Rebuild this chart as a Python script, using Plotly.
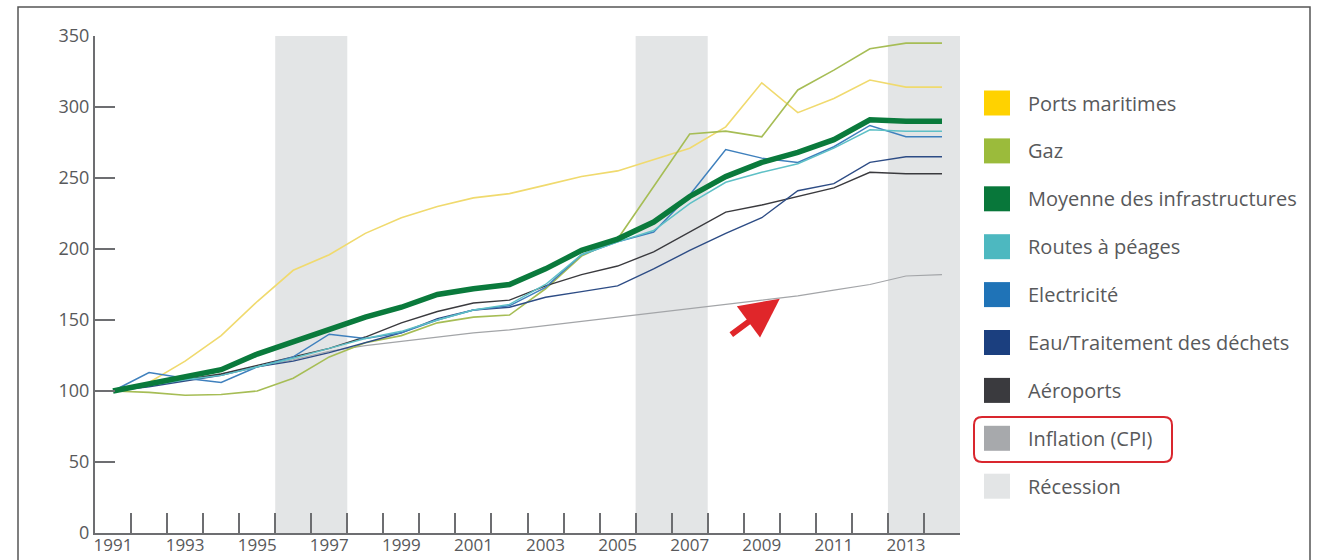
import plotly.graph_objects as go

# ---------------- data ----------------
years = list(range(1991, 2015))

ports_maritimes = [100, 106, 121, 139, 163, 185, 196, 211, 222, 230, 236, 239,
                   245, 251, 255, 263, 271, 286, 317, 296, 306, 319, 314, 314]
gaz = [100, 99, 97, 97.5, 100, 109, 124, 134, 139, 148, 152, 153.5,
       172, 195, 207, 244, 281, 283, 279, 312, 326, 341, 345, 345]
moyenne = [100, 105, 110, 115, 126, 135, 143, 152, 159, 168, 172, 175,
           186, 199, 207, 219, 237, 251, 261, 268, 277, 291, 290, 290]
routes_peages = [100, 104, 108, 111, 117, 123, 130, 137, 142, 150, 157, 161,
                 175, 196, 205, 213, 232, 247, 254, 260, 271, 284, 283, 283]
electricite = [100, 113, 109, 106, 117, 124, 140, 137, 141, 150, 157, 160,
               173, 196, 205, 212, 238, 270, 264, 261, 272, 287, 279, 279]
eau_dechets = [100, 103, 107, 111, 117, 121, 127, 134, 141, 151, 157, 159,
               166, 170, 174, 186, 199, 211, 222, 241, 246, 261, 265, 265]
aeroports = [100, 104, 108, 112, 118, 124, 130, 138, 148, 156, 162, 164,
             174, 182, 188, 198, 212, 226, 231, 237, 243, 254, 253, 253]
inflation = [100, 104, 108, 112, 117, 122, 128, 132, 135, 138, 141, 143,
             146, 149, 152, 155, 158, 161, 164, 167, 171, 175, 181, 182]

recessions = [(1995.5, 1997.5), (2005.5, 2007.5), (2012.5, 2014.5)]

x_label_years = [1991, 1993, 1995, 1997, 1999, 2001, 2003, 2005, 2007, 2009, 2011, 2013]
x_tick_bounds = [y + 0.5 for y in range(1991, 2015)]
y_ticks = [0, 50, 100, 150, 200, 250, 300, 350]

legend_names = ["Ports maritimes", "Gaz", "Moyenne des infrastructures", "Routes à péages",
                "Electricité", "Eau/Traitement des déchets", "Aéroports", "Inflation (CPI)",
                "Récession"]
legend_colors = ["#FFD200", "#9BBB3B", "#08773A", "#4DB8C0", "#1F73B7", "#1B3F7F",
                 "#3A3A3E", "#A7A9AC", "#E3E5E6"]

# ---------------- figure ----------------
W, H = 1326, 560
L, R, T, B = 95, 960, 36, 533
FONT = "Open Sans"
TXT = "#58595B"
AX = "#6D6E71"

def px_x(x):
    return (x - L) / (R - L)

def px_y(y):
    return (B - y) / (B - T)

fig = go.Figure()

series = [
    ("Inflation (CPI)", inflation, "#A3A5A8", 1.2),
    ("Ports maritimes", ports_maritimes, "#F0DA6E", 1.6),
    ("Gaz", gaz, "#A6BD55", 1.6),
    ("Aéroports", aeroports, "#3A3A3E", 1.4),
    ("Eau/Traitement des déchets", eau_dechets, "#2D4C85", 1.4),
    ("Electricité", electricite, "#3F80BD", 1.5),
    ("Routes à péages", routes_peages, "#5EC0C6", 1.5),
    ("Moyenne des infrastructures", moyenne, "#0A7A3C", 5.5),
]
for name, vals, col, w in series:
    fig.add_trace(go.Scatter(x=years, y=vals, mode="lines", name=name,
                             line=dict(color=col, width=w), showlegend=False))

# dummy trace for the tick-mark axis
fig.add_trace(go.Scatter(x=[years[0]], y=[None], xaxis="x2", showlegend=False,
                         hoverinfo="skip", mode="lines"))

shapes = []
for x0, x1 in recessions:
    shapes.append(dict(type="rect", xref="x", yref="y", x0=x0, x1=x1, y0=0, y1=350,
                       fillcolor="#E3E5E6", line=dict(width=0), layer="below"))

# outer frame
shapes.append(dict(type="rect", xref="paper", yref="paper",
                   x0=px_x(18), x1=px_x(1310), y0=px_y(575), y1=px_y(7),
                   line=dict(color="#555555", width=1.5), fillcolor="rgba(0,0,0,0)"))

annotations = []
# manual legend
leg_y0, leg_step = 103, 47.9
for i, (nm, col) in enumerate(zip(legend_names, legend_colors)):
    cy = leg_y0 + i * leg_step
    shapes.append(dict(type="rect", xref="paper", yref="paper",
                       x0=px_x(984), x1=px_x(1010), y0=px_y(cy + 12.5), y1=px_y(cy - 12.5),
                       fillcolor=col, line=dict(width=0)))
    annotations.append(dict(xref="paper", yref="paper", x=px_x(1026), y=px_y(cy),
                            xanchor="left", yanchor="middle", text=nm, showarrow=False,
                            font=dict(family=FONT, size=20, color=TXT)))

# red rounded highlight around the inflation legend entry
bx0, bx1, by0, by1, r = 974, 1172, 417, 462, 8
rx, ry = r / (R - L), r / (B - T)
X0, X1, Y0, Y1 = px_x(bx0), px_x(bx1), px_y(by1), px_y(by0)
path = (f"M {X0+rx},{Y1} L {X1-rx},{Y1} Q {X1},{Y1} {X1},{Y1-ry} "
        f"L {X1},{Y0+ry} Q {X1},{Y0} {X1-rx},{Y0} L {X0+rx},{Y0} "
        f"Q {X0},{Y0} {X0},{Y0+ry} L {X0},{Y1-ry} Q {X0},{Y1} {X0+rx},{Y1} Z")
shapes.append(dict(type="path", xref="paper", yref="paper", path=path,
                   line=dict(color="#D9262E", width=2)))

# red arrow pointing to the inflation line
annotations.append(dict(x=2009.5, y=165, xref="x", yref="y", ax=-50, ay=37,
                        text="", showarrow=True, arrowhead=2, arrowsize=1.3,
                        arrowwidth=6, arrowcolor="#E0262A", standoff=0))

fig.update_layout(
    template="none",
    width=W, height=H,
    margin=dict(l=L, r=W - R, t=T, b=H - B, autoexpand=False),
    paper_bgcolor="white", plot_bgcolor="white",
    font=dict(family=FONT, size=18, color=TXT),
    showlegend=False,
    xaxis=dict(range=[1990.5, 2014.5], tickvals=x_label_years, automargin=False,
               ticktext=[str(y) for y in x_label_years], ticks="",
               ticklabelstandoff=-4,
               showgrid=False, zeroline=False, showline=True, linecolor=AX, linewidth=2,
               tickfont=dict(family=FONT, size=17, color=TXT)),
    xaxis2=dict(range=[1990.5, 2014.5], overlaying="x", anchor="y", side="bottom",
                tickvals=x_tick_bounds, ticks="inside", ticklen=20, tickwidth=2,
                tickcolor=AX, showticklabels=False, showgrid=False, zeroline=False,
                showline=False, automargin=False),
    yaxis=dict(range=[0, 350], tickvals=y_ticks, ticks="inside", ticklen=20,
               tickwidth=2, tickcolor=AX, showgrid=False, zeroline=False,
               showline=True, linecolor=AX, linewidth=2, automargin=False,
               tickfont=dict(family=FONT, size=18, color=TXT)),
    shapes=shapes,
    annotations=annotations,
)

fig.write_html("out.html")
